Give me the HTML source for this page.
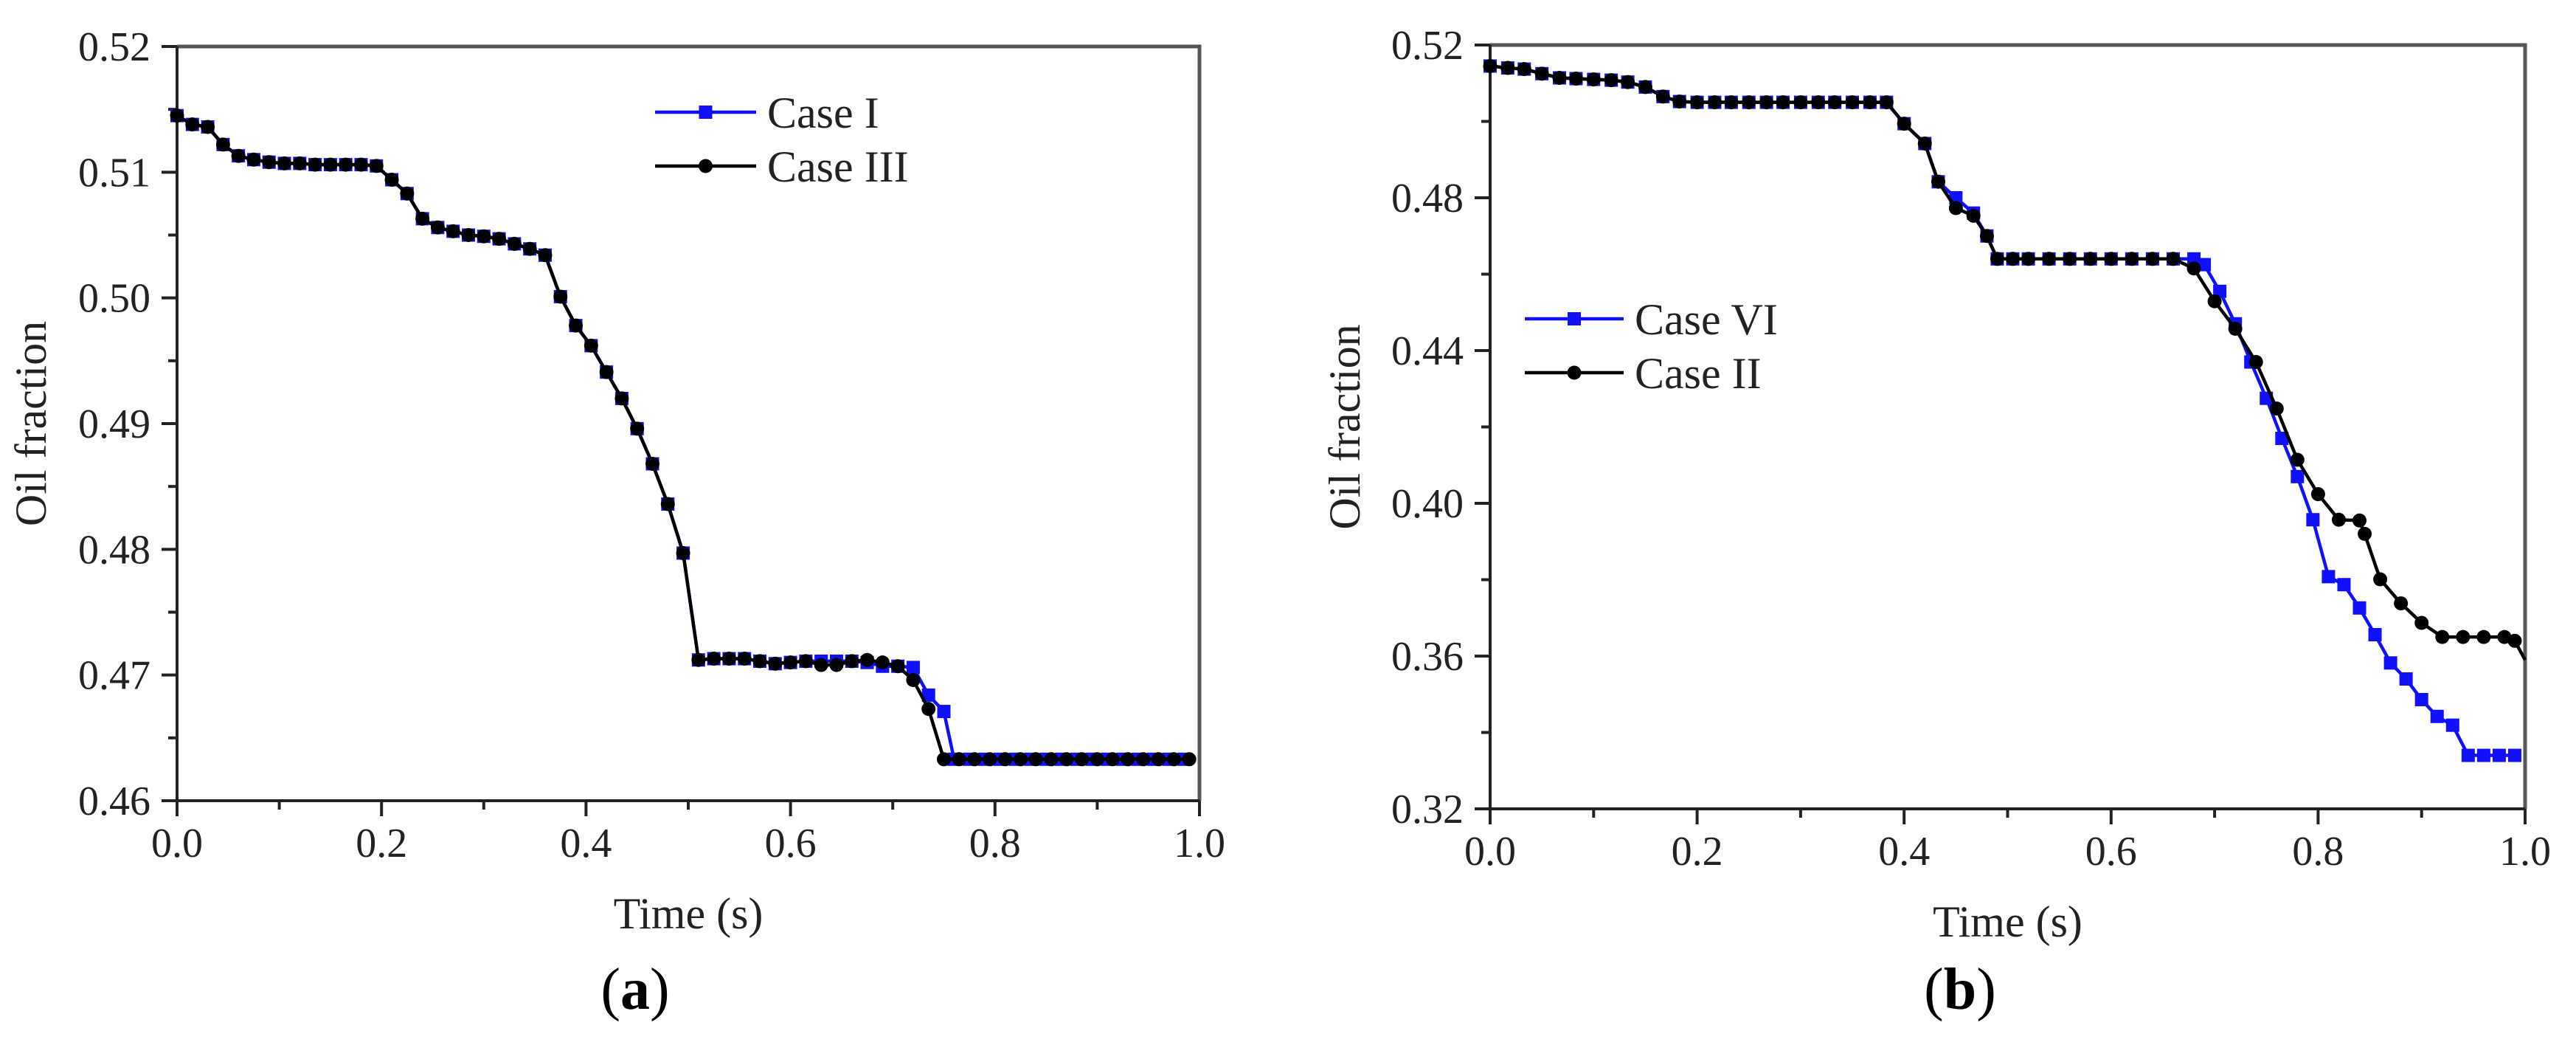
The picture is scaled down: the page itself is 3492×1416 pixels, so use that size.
<!DOCTYPE html>
<html><head><meta charset="utf-8">
<style>
html,body{margin:0;padding:0;background:#fff;}
svg{display:block;font-family:"Liberation Serif",serif;}
</style></head>
<body>
<svg id="fig" width="3492" height="1416" viewBox="0 0 3492 1416" xmlns="http://www.w3.org/2000/svg"></svg>
<script>
// ---- Panel (a) data ----
const aCase3T = [0,0.015,0.03,0.045,0.06,0.075,0.09,0.105,0.12,0.135,0.15,0.165,0.18,0.195,0.21,0.225,0.24,0.255,0.27,0.285,0.30,0.315,0.33,0.345,0.36,0.375,0.39,0.405,0.42,0.435,0.45,0.465,0.48,0.495,0.51,0.525,0.54,0.555,0.57,0.585,0.60,0.615,0.63,0.645,0.66,0.675,0.69,0.705,0.72,0.735,0.75,0.765,0.78,0.795,0.81,0.825,0.84,0.855,0.87,0.885,0.90,0.915,0.93,0.945,0.96,0.975,0.99];
const aCase3V = [0.5145,0.5138,0.5136,0.5122,0.5113,0.5110,0.5108,0.5107,0.5107,0.5106,0.5106,0.5106,0.5106,0.5105,0.5094,0.5083,0.5063,0.5056,0.5053,0.5050,0.5049,0.5047,0.5043,0.5039,0.5034,0.5001,0.4978,0.4962,0.4941,0.4920,0.4896,0.4868,0.4836,0.4797,0.4712,0.4713,0.4713,0.4713,0.4711,0.4709,0.4710,0.4711,0.4708,0.4708,0.4711,0.4712,0.4710,0.4707,0.4696,0.4673,0.4633,0.4633,0.4633,0.4633,0.4633,0.4633,0.4633,0.4633,0.4633,0.4633,0.4633,0.4633,0.4633,0.4633,0.4633,0.4633,0.4633];
const aCase1T = [0,0.015,0.03,0.045,0.06,0.075,0.09,0.105,0.12,0.135,0.15,0.165,0.18,0.195,0.21,0.225,0.24,0.255,0.27,0.285,0.30,0.315,0.33,0.345,0.36,0.375,0.39,0.405,0.42,0.435,0.45,0.465,0.48,0.495,0.51,0.525,0.54,0.555,0.57,0.585,0.60,0.615,0.63,0.645,0.66,0.675,0.69,0.705,0.72,0.735,0.75,0.76,0.775,0.79,0.805,0.82,0.835,0.85,0.865,0.88,0.895,0.91,0.925,0.94,0.955,0.97,0.985];
const aCase1V = [0.5145,0.5138,0.5136,0.5122,0.5113,0.5110,0.5108,0.5107,0.5107,0.5106,0.5106,0.5106,0.5106,0.5105,0.5094,0.5083,0.5063,0.5056,0.5053,0.5050,0.5049,0.5047,0.5043,0.5039,0.5034,0.5001,0.4978,0.4962,0.4941,0.4920,0.4896,0.4868,0.4836,0.4797,0.4712,0.4713,0.4713,0.4713,0.4711,0.4709,0.4710,0.4711,0.4711,0.4711,0.4711,0.4710,0.4707,0.4707,0.4706,0.4684,0.4671,0.4633,0.4633,0.4633,0.4633,0.4633,0.4633,0.4633,0.4633,0.4633,0.4633,0.4633,0.4633,0.4633,0.4633,0.4633,0.4633];
const aYTicks = [0.46,0.47,0.48,0.49,0.50,0.51,0.52];
const aYLabels = ["0.46","0.47","0.48","0.49","0.50","0.51","0.52"];
// ---- Panel (b) data ----
const bCase2T = [0,0.017,0.033,0.05,0.067,0.083,0.10,0.117,0.133,0.15,0.167,0.183,0.20,0.217,0.233,0.25,0.267,0.283,0.30,0.317,0.333,0.35,0.367,0.383,0.40,0.42,0.433,0.45,0.467,0.48,0.49,0.505,0.52,0.54,0.56,0.58,0.60,0.62,0.64,0.66,0.68,0.70,0.72,0.74,0.76,0.78,0.80,0.82,0.84,0.845,0.86,0.88,0.90,0.92,0.94,0.96,0.98,0.99,1.0];
const bCase2V = [0.5145,0.5140,0.5137,0.5125,0.5114,0.5112,0.5110,0.5108,0.5103,0.5090,0.5065,0.5052,0.5050,0.5050,0.5050,0.5050,0.5050,0.5050,0.5050,0.5050,0.5050,0.5050,0.5050,0.5050,0.4994,0.4942,0.4842,0.4773,0.4753,0.4700,0.4640,0.4640,0.4640,0.4640,0.4640,0.4640,0.4640,0.4640,0.4640,0.4640,0.4615,0.4529,0.4457,0.4370,0.4248,0.4114,0.4024,0.3957,0.3955,0.3920,0.3801,0.3738,0.3687,0.3650,0.3650,0.3650,0.3650,0.3640,0.3590];
const bCase6T = [0,0.017,0.033,0.05,0.067,0.083,0.10,0.117,0.133,0.15,0.167,0.183,0.20,0.217,0.233,0.25,0.267,0.283,0.30,0.317,0.333,0.35,0.367,0.383,0.40,0.42,0.433,0.45,0.467,0.48,0.49,0.505,0.52,0.54,0.56,0.58,0.60,0.62,0.64,0.66,0.68,0.69,0.705,0.72,0.735,0.75,0.765,0.78,0.795,0.81,0.825,0.84,0.855,0.87,0.885,0.90,0.915,0.93,0.945,0.96,0.975,0.99];
const bCase6V = [0.5145,0.5140,0.5137,0.5125,0.5114,0.5112,0.5110,0.5108,0.5103,0.5090,0.5065,0.5052,0.5050,0.5050,0.5050,0.5050,0.5050,0.5050,0.5050,0.5050,0.5050,0.5050,0.5050,0.5050,0.4994,0.4942,0.4842,0.4800,0.4760,0.4700,0.4640,0.4640,0.4640,0.4640,0.4640,0.4640,0.4640,0.4640,0.4640,0.4640,0.4640,0.4625,0.4555,0.4470,0.4370,0.4275,0.4170,0.4070,0.3957,0.3808,0.3787,0.3726,0.3656,0.3582,0.3540,0.3486,0.3442,0.3419,0.3340,0.3340,0.3340,0.3340];
const bYTicks = [0.32,0.36,0.40,0.44,0.48,0.52];
const bYLabels = ["0.32","0.36","0.40","0.44","0.48","0.52"];
const xTicks = [0,0.2,0.4,0.6,0.8,1.0];
const xLabels = ["0.0","0.2","0.4","0.6","0.8","1.0"];

const NS = "http://www.w3.org/2000/svg";
const svg = document.getElementById('fig');
function el(tag, attrs, parent, text) {
  const e = document.createElementNS(NS, tag);
  for (const k in attrs) e.setAttribute(k, attrs[k]);
  if (text !== undefined) e.textContent = text;
  (parent || svg).appendChild(e);
  return e;
}

function panel(cfg) {
  const g = el('g', {});
  
  
  const L = cfg.L, R = cfg.R, T = cfg.T, B = cfg.B;
  const sx = v => L + (v - 0) / 1 * (R - L);
  const sy = v => B - (v - cfg.ymin) / (cfg.ymax - cfg.ymin) * (B - T);
  const fr = el('path', {d:`M${L},${T} L${R},${T} L${R},${B}`, fill:'none', stroke:'#555', 'stroke-width':5}, g);
  
  
  const ax = el('line', {x1:L, y1:B, x2:R, y2:B, stroke:'#222', 'stroke-width':4}, g);
  
  
  const ay = el('line', {x1:L, y1:T, x2:L, y2:B, stroke:'#222', 'stroke-width':4}, g);
  
  
  xTicks.forEach((v, i) => {
    const x = sx(v);
    const t = el('line', {x1:x, y1:B, x2:x, y2:B + 21, stroke:'#222', 'stroke-width':4}, g);
    
    
    const lb = el('text', {x:x, y:B + 76, 'font-size':56, 'text-anchor':'middle', fill:'#222'}, g, xLabels[i]);
    
    
    if (i < xTicks.length - 1) {
      const xm = sx((v + xTicks[i + 1]) / 2);
      const m = el('line', {x1:xm, y1:B, x2:xm, y2:B + 12, stroke:'#222', 'stroke-width':4}, g);
      
      
    }
  });
  cfg.yTicks.forEach((v, i) => {
    const y = sy(v);
    const t = el('line', {x1:L - 21, y1:y, x2:L, y2:y, stroke:'#222', 'stroke-width':4}, g);
    
    
    const lb = el('text', {x:L - 36, y:y + 19, 'font-size':56, 'text-anchor':'end', fill:'#222'}, g, cfg.yLabels[i]);
    
    
    if (i < cfg.yTicks.length - 1) {
      const ym = sy((v + cfg.yTicks[i + 1]) / 2);
      const m = el('line', {x1:L - 12, y1:ym, x2:L, y2:ym, stroke:'#222', 'stroke-width':4}, g);
      
      
    }
  });
  const xt = el('text', {x:(L + R) / 2, y:B + 173, 'font-size':60, 'text-anchor':'middle', fill:'#222'}, g, 'Time (s)');
  
  
  const yx = cfg.ytX, yy = (T + B) / 2;
  const yt = el('text', {x:yx, y:yy, 'font-size':60, 'text-anchor':'middle', fill:'#222', transform:`rotate(-90 ${yx} ${yy})`}, g, 'Oil fraction');
  
  
  const cap = el('text', {x:cfg.capX, y:1367, 'font-size':80, 'text-anchor':'middle', fill:'#000'}, g);
  
  
  el('tspan', {}, cap, '(');
  el('tspan', {'font-weight':'bold'}, cap, cfg.letter);
  el('tspan', {}, cap, ')');
  // series (drawn in given order; black last so it sits on top)
  cfg.series.forEach(s => {
    const sg = el('g', {}, g);
    
    
    const d = s.t.map((t, i) => (i ? 'L' : 'M') + sx(t).toFixed(1) + ',' + sy(s.v[i]).toFixed(1)).join(' ');
    const p = el('path', {d:d, fill:'none', stroke:s.color, 'stroke-width':4.5, 'stroke-linejoin':'round'}, sg);
    
    
    s.t.forEach((t, i) => {
      if (s.skip && s.skip.includes(i)) return;
      const x = sx(t), y = sy(s.v[i]);
      let mk;
      if (s.marker === 'square') mk = el('rect', {x:x - 9, y:y - 9, width:18, height:18, fill:s.color}, sg);
      else mk = el('circle', {cx:x, cy:y, r:9.5, fill:s.color}, sg);
      
      
    });
  });
  const lg = el('g', {}, g);
  
  
  cfg.legendOrder.forEach((idx, i) => {
    const s = cfg.series[idx];
    const y = cfg.legY[i];
    const e = el('g', {}, lg);
    
    
    el('line', {x1:cfg.legX1, y1:y, x2:cfg.legX2, y2:y, stroke:s.color, 'stroke-width':4.5}, e);
    const mx = (cfg.legX1 + cfg.legX2) / 2;
    if (s.marker === 'square') el('rect', {x:mx - 9, y:y - 9, width:18, height:18, fill:s.color}, e);
    else el('circle', {cx:mx, cy:y, r:9.5, fill:s.color}, e);
    el('text', {x:cfg.legX2 + 15, y:y + 21, 'font-size':60, fill:'#222'}, e, s.label);
  });
}

panel({name:'panel-a', L:240, R:1626, T:63, B:1085, ymin:0.46, ymax:0.52,
  yTicks:aYTicks, yLabels:aYLabels, ytX:62, capX:861, letter:'a',
  legX1:888, legX2:1025, legY:[152, 225], legendOrder:[0,1],
  series:[
    {name:'case-i', label:'Case I', t:aCase1T, v:aCase1V, color:'#1010ff', marker:'square'},
    {name:'case-iii', label:'Case III', t:aCase3T, v:aCase3V, color:'#000', marker:'circle'}
  ]});

panel({name:'panel-b', L:2020, R:3423, T:61, B:1096, ymin:0.32, ymax:0.52,
  yTicks:bYTicks, yLabels:bYLabels, ytX:1843, capX:2657, letter:'b',
  legX1:2067, legX2:2201, legY:[432, 505], legendOrder:[0,1],
  series:[
    {name:'case-vi', label:'Case VI', t:bCase6T, v:bCase6V, color:'#1010ff', marker:'square'},
    {name:'case-ii', label:'Case II', t:bCase2T, v:bCase2V, color:'#000', marker:'circle', skip:[bCase2T.length-1]}
  ]});
</script>
</body></html>
